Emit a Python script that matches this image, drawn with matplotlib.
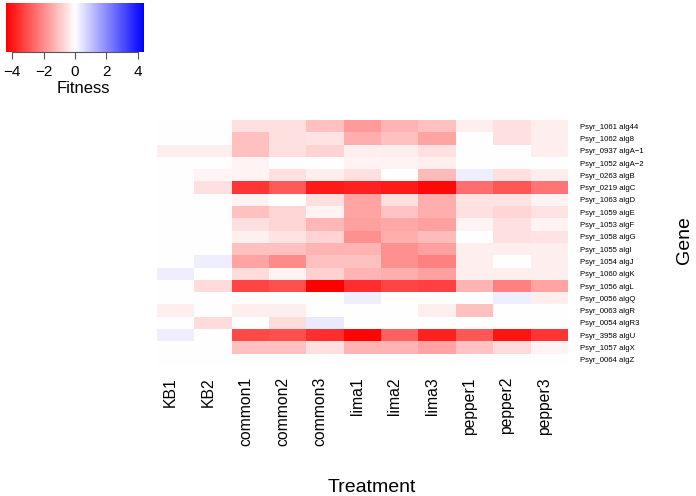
import numpy as np
import matplotlib
matplotlib.use("Agg")
import matplotlib.pyplot as plt
from matplotlib.colors import LinearSegmentedColormap
from matplotlib.transforms import ScaledTranslation

plt.rcParams['font.family'] = ['Liberation Sans', 'DejaVu Sans']

treatments = ['KB1', 'KB2', 'common1', 'common2', 'common3',
              'lima1', 'lima2', 'lima3', 'pepper1', 'pepper2', 'pepper3']
genes = ['Psyr_1061 alg44', 'Psyr_1062 alg8', 'Psyr_0937 algA\u22121',
         'Psyr_1052 algA\u22122', 'Psyr_0263 algB', 'Psyr_0219 algC',
         'Psyr_1063 algD', 'Psyr_1059 algE', 'Psyr_1053 algF',
         'Psyr_1058 algG', 'Psyr_1055 algI', 'Psyr_1054 algJ',
         'Psyr_1060 algK', 'Psyr_1056 algL', 'Psyr_0056 algQ',
         'Psyr_0063 algR', 'Psyr_0054 algR3', 'Psyr_3958 algU',
         'Psyr_1057 algX', 'Psyr_0064 algZ']

# fitness per gene (rows) and treatment (columns)
fitness = np.array([
    [0, 0, -0.55, -0.55, -1.1, -1.75, -1.3, -1.1, -0.3, -0.55, -0.3],
    [0, 0, -1.1, -0.55, -0.45, -1.4, -1.1, -1.55, 0, -0.55, -0.3],
    [-0.3, -0.3, -1.1, -0.55, -0.75, -0.25, -0.3, -0.55, 0, 0, -0.3],
    [0, 0, -0.2, 0, 0, -0.2, -0.2, -0.3, 0, 0, 0],
    [0, -0.2, -0.2, -0.55, -0.3, -0.55, 0, -1.2, 0.3, -0.55, -0.3],
    [0, -0.55, -3.5, -2.85, -3.95, -3.85, -3.95, -4.25, -2.5, -2.9, -2.4],
    [0, 0, -0.2, 0, -0.55, -1.55, -0.55, -1.4, -0.45, -0.45, -0.2],
    [0, 0, -1.1, -0.7, -0.2, -1.55, -1.0, -1.4, -0.55, -0.7, -0.45],
    [0, 0, -0.55, -0.7, -1.25, -1.65, -1.5, -1.65, -0.2, -0.55, -0.2],
    [0, 0, -0.25, -0.45, -0.75, -1.9, -1.4, -1.2, 0, -0.55, -0.5],
    [0, 0, -1.1, -1.1, -1.3, -1.3, -1.9, -1.65, -0.3, -0.3, -0.3],
    [0, 0.3, -1.55, -2.0, -1.1, -1.1, -1.9, -2.2, -0.3, 0, -0.3],
    [0.3, 0, -0.6, -0.2, -0.8, -1.3, -1.4, -1.65, -0.3, -0.3, -0.3],
    [0, -0.6, -3.2, -3.0, -4.4, -3.6, -3.2, -3.3, -1.3, -2.2, -1.55],
    [0, 0, 0, 0, 0, 0.3, 0, 0, 0, 0.3, -0.3],
    [-0.3, 0, -0.3, -0.3, 0, 0, 0, -0.3, -1.1, 0, 0],
    [0, -0.6, 0, -0.6, 0.35, 0, 0, 0, 0, 0, 0],
    [0.3, 0, -3.1, -3.0, -3.6, -4.3, -2.75, -3.85, -2.9, -4.05, -3.5],
    [0, 0, -1.1, -1.1, -0.55, -1.3, -1.3, -1.55, -1.0, -0.6, -0.2],
    [0, 0, 0, 0, 0, 0, 0, 0, 0, 0, 0],
])
key_ticks = [-4, -2, 0, 2, 4]
lim = 4.4

cmap = LinearSegmentedColormap.from_list('rwb', ['#FF0000', '#FFFFFF', '#0000FF'])

fig = plt.figure(figsize=(6.96, 4.96), dpi=100)

# main heatmap
ax = fig.add_axes([157/696, 1 - 366/496, (568-157)/696, (366-120)/496])
ax.imshow(fitness, cmap=cmap, vmin=-lim, vmax=lim, aspect='auto',
          interpolation='nearest')
for s in ax.spines.values():
    s.set_visible(False)
ax.set_xticks(np.arange(len(treatments)))
ax.set_xticklabels(treatments, rotation=90, fontsize=11.3)
ax.tick_params(axis='x', length=0, pad=8)
for lab in ax.get_xticklabels():
    lab.set_transform(lab.get_transform() + ScaledTranslation(-0.05, 0, fig.dpi_scale_trans))
ax.yaxis.tick_right()
ax.set_yticks(np.arange(len(genes)))
ax.set_yticklabels(genes, fontsize=5.6)
ax.tick_params(axis='y', length=0, pad=9)

fig.text(372/696, 1 - 487/496, 'Treatment', ha='center', va='center', fontsize=14)
fig.text(684/696, 1 - 240/496, 'Gene', ha='center', va='center', rotation=90, fontsize=14)

# colour key
kax = fig.add_axes([6/696, 1 - 52/496, 138/696, 49/496])
grad = np.linspace(-lim, lim, 256).reshape(1, -1)
kax.imshow(grad, cmap=cmap, vmin=-lim, vmax=lim, aspect='auto',
           extent=[-lim, lim, 0, 1], interpolation='nearest')
kax.set_xlim(-lim, lim)
kax.set_yticks([])
for side in ['top', 'left', 'right']:
    kax.spines[side].set_visible(False)
kax.spines['bottom'].set_bounds(-4, 4)
kax.spines['bottom'].set_color('#555555')
kax.set_xticks(key_ticks)
kax.set_xticklabels(['\u22124', '\u22122', '0', '2', '4'], fontsize=11)
kax.tick_params(axis='x', length=5, color='#555555', pad=4)
fig.text(83/696, 1 - 88/496, 'Fitness', ha='center', va='center', fontsize=12)

fig.savefig('out.png', dpi=100)
